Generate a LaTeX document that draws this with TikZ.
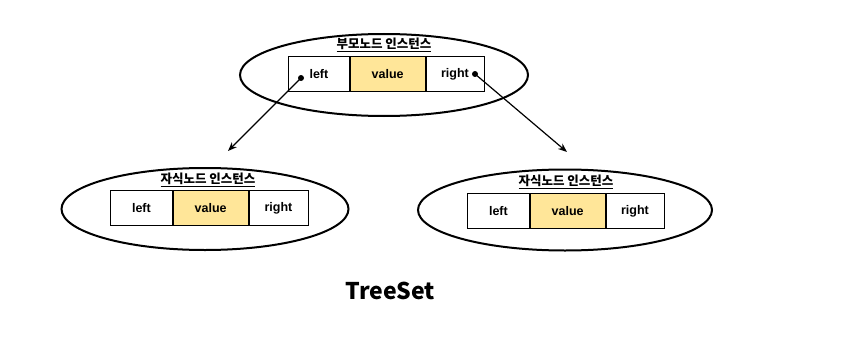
\documentclass[tikz,border=0pt]{standalone}
\usepackage{fontspec}
\setmainfont{Liberation Sans}
\newfontfamily\krfont{Noto Sans CJK KR}
\usetikzlibrary{arrows.meta,shapes.geometric,positioning}
\definecolor{valfill}{RGB}{255,230,153}
\tikzset{
  inst/.style={draw, ellipse, line width=2pt, inner sep=0pt},
  cell/.style={draw, line width=0.8pt, minimum height=35pt, inner sep=0pt,
    font=\bfseries\fontsize{12.5}{14}\selectfont},
  ttl/.style={font=\krfont\bfseries\fontsize{12.5}{14}\selectfont},
  dot/.style={circle, fill=black, inner sep=0pt, minimum size=6pt},
  ptr/.style={-{Stealth[length=9pt,width=7pt]}, line width=1.2pt}
}

\begin{document}
\begin{tikzpicture}[x=1pt, y=-1pt]
\useasboundingbox (0,0) rectangle (856,345);

% parent instance
\node[inst, minimum width=288pt, minimum height=82pt] (par) at (384,75) {};
\node[ttl] (parlbl) at (384,45) {\underline{부모노드 인스턴스}};
\node[cell, minimum width=61pt, anchor=north west] (pl) at (288,56) {left};
\node[cell, minimum width=75pt, fill=valfill, right=0pt of pl] (pv) {value};
\node[cell, minimum width=58pt, right=0pt of pv] (pr) {right};
\node[dot] (dl) at (301,78) {};
\node[dot] (dr) at (475,74) {};

% left child instance
\node[inst, minimum width=287pt, minimum height=82pt] (lc) at (205,209) {};
\node[ttl] (lclbl) at (208,180) {\underline{자식노드 인스턴스}};
\node[cell, minimum width=62pt, anchor=north west] (ll) at (110,190) {left};
\node[cell, minimum width=75pt, fill=valfill, right=0pt of ll] (lv) {value};
\node[cell, minimum width=59pt, right=0pt of lv] (lr) {right};

% right child instance
\node[inst, minimum width=294pt, minimum height=81pt] (rc) at (565,210) {};
\node[ttl] (rclbl) at (566,182) {\underline{자식노드 인스턴스}};
\node[cell, minimum width=62pt, anchor=north west] (rl) at (467,193) {left};
\node[cell, minimum width=75pt, fill=valfill, right=0pt of rl] (rv) {value};
\node[cell, minimum width=58pt, right=0pt of rv] (rr) {right};

% pointers
\coordinate (tl) at (228,151);
\coordinate (tr) at (567,152);
\draw[ptr] (dl.center) -- (tl);
\draw[ptr] (dr.center) -- (tr);

\node[font=\krfont\bfseries\fontsize{23}{25}\selectfont] (cap) at (390,291) {TreeSet};
\end{tikzpicture}
\end{document}
